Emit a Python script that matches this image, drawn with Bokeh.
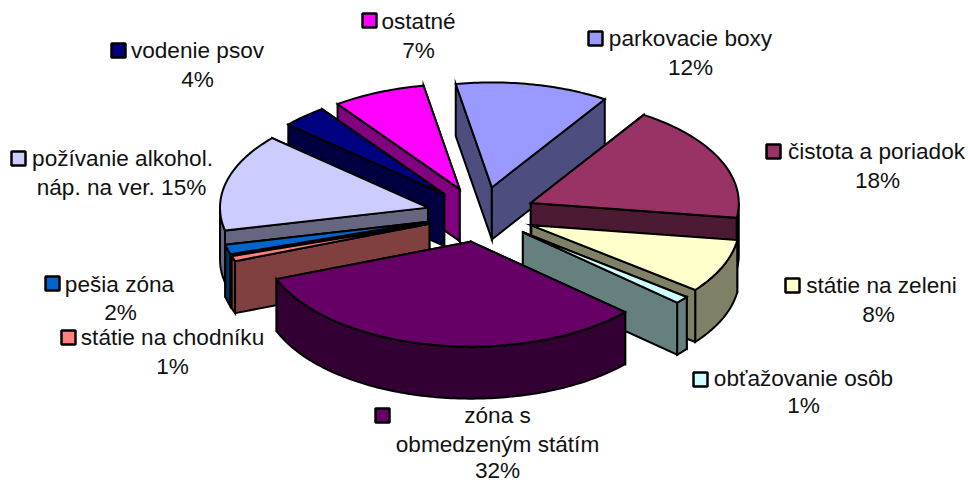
import math
from bokeh.plotting import figure
from bokeh.models import ColumnDataSource
from bokeh.core.properties import value
from bokeh.embed import file_html
from bokeh.resources import INLINE

# --- data -------------------------------------------------------------
categories = ["parkovacie boxy", "čistota a poriadok", "státie na zeleni", "obťažovanie osôb",
              "zóna s obmedzeným státím", "státie na chodníku", "pešia zóna",
              "požívanie alkohol. náp. na ver.", "vodenie psov", "ostatné"]
shares = [11.9, 18.1, 8.3, 1.14, 32.46, 0.8, 1.5, 15.0, 3.5, 7.2]
percent_labels = ["12%", "18%", "8%", "1%", "32%", "1%", "2%", "15%", "4%", "7%"]

# --- style ------------------------------------------------------------
top_colors = ["#9999ff", "#993366", "#ffffcc", "#ccffff", "#660066",
              "#ff8080", "#0066cc", "#ccccff", "#000080", "#ff00ff"]
wall_colors = ["#4d4d80", "#4d1a33", "#808066", "#668080", "#330033",
               "#804040", "#003366", "#666680", "#000040", "#800080"]

# --- layout -----------------------------------------------------------
CX, CY = 480.5, 214.0
RX, RY = 208.0, 105.0
DEPTH = 52.0
EXPLODE = 0.263
START_DEG = -10.0
FONT = "Liberation Sans"
FS = "22.6px"

# label lines: (text, centre x, y) and key (x, y) for each category
label_lines = [
    [("parkovacie boxy", 690, 38), ("12%", 690, 67)],
    [("čistota a poriadok", 876, 151), ("18%", 877, 180)],
    [("státie na zeleni", 881, 285), ("8%", 878, 314)],
    [("obťažovanie osôb", 803, 378), ("1%", 803, 405)],
    [("zóna s", 497, 415), ("obmedzeným státím", 497, 444), ("32%", 497, 470)],
    [("státie na chodníku", 172, 337), ("1%", 172, 366)],
    [("pešia zóna", 119, 284), ("2%", 120, 312)],
    [("požívanie alkohol.", 122, 158), ("náp. na ver. 15%", 121, 187)],
    [("vodenie psov", 197, 50), ("4%", 197, 79)],
    [("ostatné", 418, 21), ("7%", 418, 50)],
]
key_xy = [(595, 38), (773, 151), (792, 285), (700, 379), (382, 415),
          (68, 337), (52, 283), (18, 158), (118, 50), (369, 20)]

p = figure(width=968, height=482, x_range=(0, 968), y_range=(482, 0),
           toolbar_location=None, output_backend="svg", min_border=0)
p.axis.visible = False
p.grid.visible = False
p.outline_line_color = None

# --- geometry from the shares ------------------------------------------
total = sum(shares)
edges = [START_DEG]
for s in shares:
    edges.append(edges[-1] + s / total * 360.0)


def pt(t_deg, ax, ay):
    t = math.radians(t_deg)
    return ax + RX * math.sin(t), ay - RY * math.cos(t)


slices = []
for i, s in enumerate(shares):
    t1, t2 = edges[i], edges[i + 1]
    mid = math.radians((t1 + t2) / 2)
    ax = CX + EXPLODE * RX * math.sin(mid)
    ay = CY - EXPLODE * RY * math.cos(mid)
    slices.append((math.cos(mid), i, t1, t2, ax, ay))

xs, ys, fills = [], [], []


def add(poly, color):
    xs.append([q[0] for q in poly])
    ys.append([q[1] for q in poly])
    fills.append(color)


def radial_wall(t, ax, ay, color):
    ex, ey = pt(t, ax, ay)
    add([(ax, ay), (ex, ey), (ex, ey + DEPTH), (ax, ay + DEPTH)], color)


for _, i, t1, t2, ax, ay in sorted(slices, key=lambda r: -r[0]):
    wall = wall_colors[i]
    start_vis = math.sin(math.radians(t1)) < 0
    end_vis = math.sin(math.radians(t2)) > 0
    # hidden radial walls first
    if not start_vis:
        radial_wall(t1, ax, ay, wall)
    if not end_vis:
        radial_wall(t2, ax, ay, wall)
    # front rim
    lo, hi = max(t1, 90.0), min(t2, 270.0)
    if hi > lo:
        n = max(2, int(hi - lo))
        arc = [pt(lo + (hi - lo) * k / n, ax, ay) for k in range(n + 1)]
        add(arc + [(q[0], q[1] + DEPTH) for q in reversed(arc)], wall)
    if start_vis:
        radial_wall(t1, ax, ay, wall)
    if end_vis:
        radial_wall(t2, ax, ay, wall)
    # top face
    n = max(2, int(t2 - t1))
    add([(ax, ay)] + [pt(t1 + (t2 - t1) * k / n, ax, ay) for k in range(n + 1)], top_colors[i])

p.patches("xs", "ys", source=ColumnDataSource(dict(xs=xs, ys=ys, c=fills)),
          fill_color="c", line_color="black", line_width=2, line_join="miter")

# --- labels ------------------------------------------------------------
p.scatter([k[0] for k in key_xy], [k[1] for k in key_xy], marker="square", size=14,
          fill_color=top_colors, line_color="black", line_width=2.5)
tx, ty, tt = [], [], []
for lines in label_lines:
    for t, x, y in lines:
        tt.append(t)
        tx.append(x)
        ty.append(y)
p.text(tx, ty, text=tt, text_font=value(FONT), text_font_size=value(FS), text_color="#111111",
       text_align="center", text_baseline="middle")

open("out.html", "w").write(file_html(p, INLINE))
